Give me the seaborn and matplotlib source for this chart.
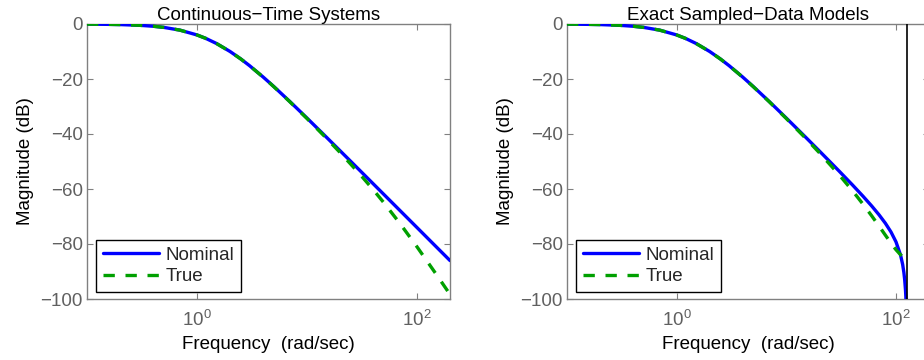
import matplotlib
matplotlib.use("Agg")
import matplotlib.pyplot as plt
import pandas as pd
import seaborn as sns

# ---------------- data ----------------
freq_ct = [0.1, 0.15, 0.2, 0.3, 0.4, 0.5, 0.7, 1, 1.2, 1.5, 2, 2.5, 3, 4, 5,
           7, 10, 15, 20, 30, 40, 50, 70, 100, 150, 200]
mag_nominal_ct = [-0.05, -0.12, -0.21, -0.47, -0.82, -1.23, -2.23, -3.98, -5.21,
                  -7.06, -10.00, -12.69, -15.12, -19.29, -22.75, -28.21, -34.19,
                  -41.12, -46.08, -53.09, -58.08, -61.95, -67.79, -73.98, -81.03,
                  -86.02]
mag_true_ct = [-0.05, -0.12, -0.21, -0.47, -0.82, -1.23, -2.23, -3.98, -5.21,
               -7.06, -10.01, -12.70, -15.13, -19.32, -22.80, -28.30, -34.36,
               -41.49, -46.72, -54.42, -60.22, -64.96, -72.50, -80.97, -91.03,
               -98.33]

freq_sd_nominal = [0.1, 0.15, 0.2, 0.3, 0.4, 0.5, 0.7, 1, 1.2, 1.5, 2, 2.5, 3, 4,
                   5, 7, 10, 15, 20, 30, 40, 50, 60, 70, 80, 90, 100, 110, 115,
                   118, 120, 122, 123, 124, 125, 125.66]
mag_nominal_sd = [-0.05, -0.12, -0.21, -0.47, -0.82, -1.23, -2.23, -3.98, -5.21,
                  -7.06, -10.00, -12.69, -15.12, -19.29, -22.76, -28.22, -34.22,
                  -41.17, -46.17, -53.31, -58.48, -62.62, -66.16, -69.37, -72.45,
                  -75.62, -79.22, -83.97, -87.44, -90.34, -92.94, -96.56, -99.08,
                  -102.40, -106.58, -108.17]
freq_sd_true = [0.1, 0.15, 0.2, 0.3, 0.4, 0.5, 0.7, 1, 1.2, 1.5, 2, 2.5, 3, 4, 5,
                7, 10, 15, 20, 30, 40, 50, 60, 70, 80, 90, 100, 110, 115, 120,
                125.66]
mag_true_sd = [-0.05, -0.12, -0.21, -0.47, -0.82, -1.23, -2.23, -3.98, -5.21,
               -7.06, -10.01, -12.70, -15.13, -19.32, -22.81, -28.31, -34.39,
               -41.55, -46.81, -54.63, -60.58, -65.50, -69.74, -73.47, -76.78,
               -79.67, -82.08, -83.90, -84.52, -84.91, -85.07]
nyquist_freq = [125.66]

titles = ["Continuous\u2212Time Systems", "Exact Sampled\u2212Data Models"]
series_labels = ["Nominal", "True"]
x_ticks = [1, 100]
x_tick_labels = [r"$\mathregular{10^{0}}$", r"$\mathregular{10^{2}}$"]
y_ticks = [0, -20, -40, -60, -80, -100]
x_label = "Frequency  (rad/sec)"
y_label = "Magnitude (dB)"

# ---------------- style ----------------
sns.set_style("ticks")
plt.rcParams["font.family"] = ["Liberation Sans", "DejaVu Sans"]
plt.rcParams["mathtext.fontset"] = "custom"
plt.rcParams["mathtext.rm"] = "Liberation Sans"
plt.rcParams["mathtext.it"] = "Liberation Sans:italic"
plt.rcParams["axes.unicode_minus"] = True

FS = 13.5
BLUE = "#0000ff"
GREEN = "#00a000"
SPINE = "#808080"
TICKLAB = "#606060"

fig = plt.figure(figsize=(9.24, 3.6), dpi=100)
ax1 = fig.add_axes([87 / 924, 61 / 360, 363 / 924, 275 / 360])
ax2 = fig.add_axes([567 / 924, 61 / 360, 362 / 924, 275 / 360])

panels = [
    (ax1, freq_ct, mag_nominal_ct, freq_ct, mag_true_ct, titles[0]),
    (ax2, freq_sd_nominal, mag_nominal_sd, freq_sd_true, mag_true_sd, titles[1]),
]

for ax, fn, mn, ft, mt, title in panels:
    df_n = pd.DataFrame({"freq": fn, "mag": mn})
    df_t = pd.DataFrame({"freq": ft, "mag": mt})
    sns.lineplot(data=df_n, x="freq", y="mag", ax=ax, color=BLUE, lw=2.4,
                 label=series_labels[0], zorder=3)
    sns.lineplot(data=df_t, x="freq", y="mag", ax=ax, color=GREEN, lw=2.4,
                 label=series_labels[1], zorder=4)
    ax.lines[1].set_dashes((3.4, 3.2))
    ax.set_xscale("log")
    ax.set_xlim(0.1, 200)
    ax.set_ylim(-100, 0)
    ax.set_xticks(x_ticks)
    ax.set_xticklabels(x_tick_labels)
    ax.minorticks_off()
    ax.set_yticks(y_ticks)
    ax.tick_params(axis="both", which="both", direction="in", top=True,
                   right=True, length=4, width=0.8, color=SPINE,
                   labelcolor=TICKLAB, labelsize=FS)
    ax.tick_params(axis="x", pad=8)
    ax.tick_params(axis="y", pad=3)
    for sp in ax.spines.values():
        sp.set_color(SPINE)
        sp.set_linewidth(1.0)
    ax.set_title(title, fontsize=FS, color="black", pad=3)
    ax.set_xlabel(x_label, fontsize=FS, color="black", labelpad=4)
    ax.set_ylabel(y_label, fontsize=FS, color="black", labelpad=5)
    leg = ax.legend(loc="lower left", bbox_to_anchor=(9 / 363, 7 / 275),
                    borderaxespad=0, fontsize=FS, frameon=True, fancybox=False,
                    framealpha=1, edgecolor="black", handlelength=3.0,
                    handletextpad=0.35, labelspacing=0.25, borderpad=0.35)
    leg.get_frame().set_linewidth(1.0)

for xv in nyquist_freq:
    ax2.axvline(xv, color="black", lw=1.2, zorder=5)

fig.savefig("out.png", dpi=100)
